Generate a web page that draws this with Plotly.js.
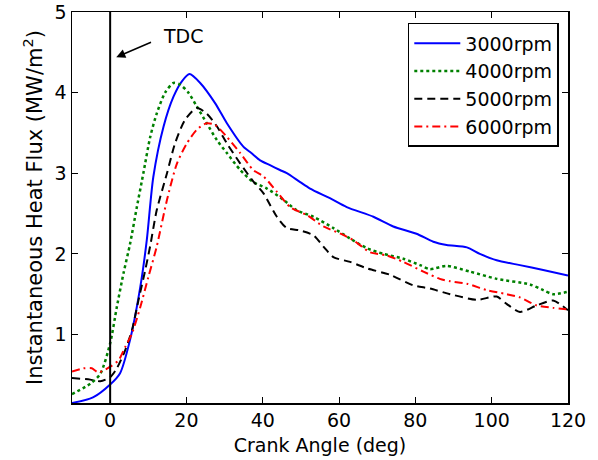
<!DOCTYPE html>
<html>
<head>
<meta charset="utf-8">
<script src="https://cdn.plot.ly/plotly-3.0.1.min.js"></script>
<style>html,body{margin:0;padding:0;background:#fff;}#chart{width:598px;height:460px;}</style>
</head>
<body>
<div id="chart"></div>
<script>
const seriesNames = ["3000rpm", "4000rpm", "5000rpm", "6000rpm"];

const x3000 = [-10,-4.5,0,2.6,5.2,7.9,9.6,11.3,14,16.6,18.8,20.8,23.6,27.5,30.6,34.9,37,39.3,41.9,44.5,46.3,49.8,52.4,57.6,62,69,74.2,80.3,84.7,88.2,93.5,96.9,101.3,107.4,113.5,120];
const y3000 = [0.15,0.22,0.38,0.52,0.93,1.59,2.17,2.95,3.58,3.95,4.14,4.23,4.12,3.87,3.62,3.33,3.25,3.16,3.10,3.04,3.0,2.89,2.81,2.69,2.58,2.46,2.34,2.25,2.15,2.11,2.08,2.0,1.92,1.86,1.80,1.73];

const x4000 = [-10,-5.2,-2.6,0,1.75,3.5,5.2,7,8.7,10.5,12.2,14.4,16.6,18.3,20.5,22.7,25.3,28,30.6,34.1,37.5,41.1,45.4,48.9,53.3,58.5,62.9,67.3,71.6,76.8,81.2,83.8,88.2,94.3,101.3,110,113.5,116.1,120];
const y4000 = [0.26,0.39,0.51,0.89,1.34,1.76,2.12,2.58,3.0,3.45,3.74,4.0,4.12,4.10,4.0,3.83,3.62,3.41,3.25,3.04,2.89,2.81,2.67,2.54,2.46,2.32,2.19,2.07,2.0,1.94,1.86,1.81,1.85,1.78,1.69,1.62,1.55,1.50,1.53];

const x5000 = [-10,-5.2,-2.6,0,1.75,3.9,5.7,7.4,9.2,10.5,12.2,14.9,17,19.6,22.7,25.3,28,30.6,34.1,37.5,40.2,43.7,46.3,49.8,53.3,55.9,58.5,62.9,67.3,73.4,79.4,83.8,89.1,96.1,101.3,103.9,107.4,111.8,116.1,120];
const y5000 = [0.46,0.44,0.42,0.47,0.58,0.80,1.05,1.42,1.80,2.10,2.54,3.0,3.37,3.66,3.81,3.74,3.58,3.37,3.12,2.90,2.75,2.46,2.32,2.29,2.23,2.09,1.96,1.90,1.82,1.74,1.61,1.57,1.50,1.43,1.47,1.38,1.28,1.36,1.42,1.30];

const x6000 = [-10,-7,-4.8,-3.1,0,2.2,3.9,5.7,7.9,10,12.2,14.9,17.5,20.1,22.7,25.3,27.5,30.6,34.1,37.5,40.2,43.7,47.2,51.6,55.9,60.4,63.7,68.1,72.5,76.8,82.1,86.4,89.1,93.5,98.7,103.9,107.4,111.8,116.1,120];
const y6000 = [0.54,0.58,0.58,0.53,0.60,0.68,0.84,1.01,1.34,1.71,2.09,2.67,3.12,3.37,3.54,3.62,3.60,3.45,3.25,3.04,2.96,2.77,2.58,2.48,2.34,2.25,2.17,2.02,1.98,1.90,1.78,1.69,1.66,1.63,1.55,1.50,1.46,1.36,1.33,1.31];

const xTicks = [0, 20, 40, 60, 80, 100, 120];
const yTicks = [1, 2, 3, 4, 5];
const tdcAngle = 0;

const FONT = "DejaVu Sans, Arial, sans-serif";
const styles = [
  {color: "#0000ff", dash: "solid", width: 2},
  {color: "#008000", dash: "dot", width: 2.5},
  {color: "#000000", dash: "8px,5px", width: 2},
  {color: "#ff0000", dash: "8px,4px,2px,4px", width: 2}
];
const xs = [x3000, x4000, x5000, x6000];
const ys = [y3000, y4000, y5000, y6000];

const traces = seriesNames.map((n, i) => ({
  x: xs[i], y: ys[i], name: n, type: "scatter", mode: "lines",
  line: {color: styles[i].color, dash: styles[i].dash, width: styles[i].width, shape: "spline", smoothing: 0.7}
}));

const axisCommon = {
  showline: true, linecolor: "#000", linewidth: 1.5, mirror: "ticks",
  ticks: "inside", ticklen: 6, tickwidth: 1, tickcolor: "#000",
  showgrid: false, zeroline: false,
  tickfont: {family: FONT, size: 19, color: "#000"}
};

const layout = {
  width: 598, height: 460,
  margin: {l: 72, r: 30, t: 12, b: 57},
  paper_bgcolor: "#fff", plot_bgcolor: "#fff",
  showlegend: true,
  legend: {
    x: 0.677, y: 0.972, xanchor: "left", yanchor: "top",
    bordercolor: "#000", borderwidth: 1.5, bgcolor: "#fff",
    itemwidth: 46, tracegroupgap: 0,
    font: {family: FONT, size: 19, color: "#000"}
  },
  xaxis: Object.assign({}, axisCommon, {
    range: [-10, 120], tickvals: xTicks, ticktext: xTicks.map(String),
    title: {text: "Crank Angle (deg)", font: {family: FONT, size: 19, color: "#000"}, standoff: 8}
  }),
  yaxis: Object.assign({}, axisCommon, {
    range: [0.15, 5], tickvals: yTicks, ticktext: yTicks.map(String),
    title: {text: "Instantaneous Heat Flux (MW/m<sup>2</sup>)", font: {family: FONT, size: 21, color: "#000"}, standoff: 6}
  }),
  shapes: [{type: "line", xref: "x", yref: "paper", x0: tdcAngle, x1: tdcAngle, y0: 0, y1: 1, line: {color: "#000", width: 2}}],
  annotations: [
    {x: 1.6, y: 4.44, xref: "x", yref: "y", ax: 11.5, ay: 4.64, axref: "x", ayref: "y",
     text: " ", showarrow: true, arrowhead: 2, arrowsize: 1.2, arrowwidth: 1.5, arrowcolor: "#000"},
    {x: 13.2, y: 4.70, xref: "x", yref: "y", xanchor: "left", yanchor: "middle", text: "TDC", showarrow: false,
     font: {family: FONT, size: 19, color: "#000"}}
  ]
};

Plotly.newPlot("chart", traces, layout, {displayModeBar: false, staticPlot: true});
</script>
</body>
</html>
